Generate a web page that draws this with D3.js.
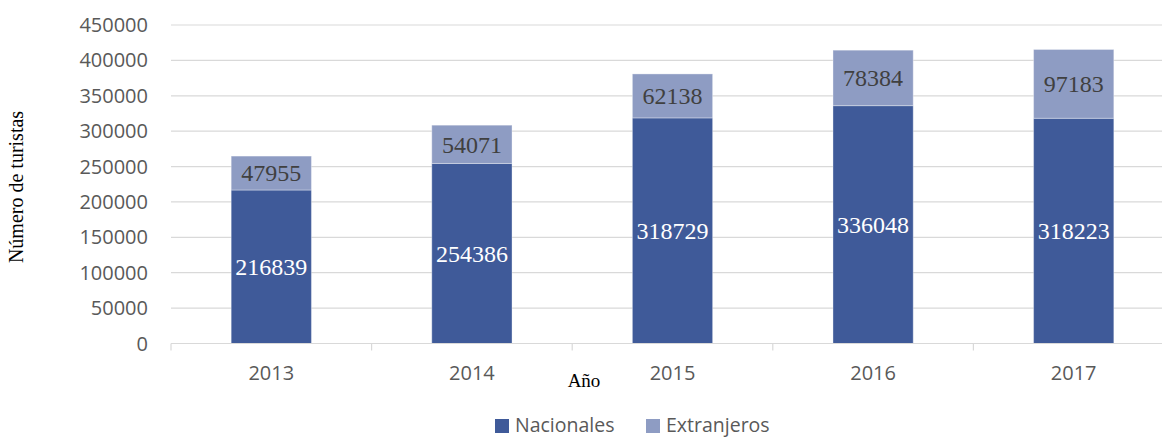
<!DOCTYPE html>
<html>
<head>
<meta charset="utf-8">
<script src="https://cdn.jsdelivr.net/npm/d3@7"></script>
<style>
  body { margin: 0; background: #fff; }
  svg { display: block; }
</style>
</head>
<body>
<svg id="grafica" width="1162" height="438"></svg>
<script>
const anios       = ["2013", "2014", "2015", "2016", "2017"];
const nacionales  = [216839, 254386, 318729, 336048, 318223];
const extranjeros = [47955, 54071, 62138, 78384, 97183];
const ticksY      = [0, 50000, 100000, 150000, 200000, 250000, 300000, 350000, 400000, 450000];
const series      = ["Nacionales", "Extranjeros"];

const colores = { Nacionales: "#3F5A99", Extranjeros: "#8E9CC3" };
const sans  = "'Open Sans', 'Liberation Sans', sans-serif";
const serif = "'Liberation Serif', 'Times New Roman', serif";

const svg = d3.select('#grafica');

const x = d3.scaleBand()
  .domain(anios)
  .range([171, 1174])
  .paddingInner(0.6)
  .paddingOuter(0.3);

const y = d3.scaleLinear()
  .domain([0, 450000])
  .range([343.5, 25]);

// lineas de la rejilla
svg.append('g')
  .selectAll('line')
  .data(ticksY.slice(1))
  .join('line')
  .attr('x1', 171).attr('x2', 1174)
  .attr('y1', d => y(d)).attr('y2', d => y(d))
  .attr('stroke', '#d9d9d9')
  .attr('stroke-width', 1.2);

// etiquetas eje Y
svg.append('g')
  .selectAll('text')
  .data(ticksY)
  .join('text')
  .attr('x', 148)
  .attr('y', d => y(d))
  .attr('dy', '0.35em')
  .attr('text-anchor', 'end')
  .attr('fill', '#595959')
  .style('font', `20px ${sans}`)
  .text(d => d);

// datos apilados
const filas = anios.map((a, i) => ({ anio: a, Nacionales: nacionales[i], Extranjeros: extranjeros[i] }));
const pila = d3.stack().keys(series)(filas);

const capas = svg.append('g')
  .selectAll('g')
  .data(pila)
  .join('g')
  .attr('fill', d => colores[d.key]);

capas.selectAll('rect')
  .data(d => d)
  .join('rect')
  .attr('x', d => x(d.data.anio))
  .attr('width', x.bandwidth())
  .attr('y', d => y(d[1]))
  .attr('height', d => y(d[0]) - y(d[1]))
  .attr('stroke', '#ffffff')
  .attr('stroke-opacity', 0.35)
  .attr('stroke-width', 1);

// eje X
const ejeX = svg.append('g');
ejeX.append('line')
  .attr('x1', 171).attr('x2', 1174)
  .attr('y1', y(0)).attr('y2', y(0))
  .attr('stroke', '#d9d9d9')
  .attr('stroke-width', 1.2);

const limites = d3.range(anios.length + 1).map(i => 171 + i * x.step());
ejeX.selectAll('line.marca')
  .data(limites)
  .join('line')
  .attr('class', 'marca')
  .attr('x1', d => d).attr('x2', d => d)
  .attr('y1', y(0)).attr('y2', y(0) + 7)
  .attr('stroke', '#d9d9d9')
  .attr('stroke-width', 1.2);

ejeX.selectAll('text')
  .data(anios)
  .join('text')
  .attr('x', d => x(d) + x.bandwidth() / 2)
  .attr('y', 373)
  .attr('dy', '0.35em')
  .attr('text-anchor', 'middle')
  .attr('fill', '#595959')
  .style('font', `20px ${sans}`)
  .text(d => d);

// etiquetas de valor
capas.selectAll('text')
  .data(d => d.map(v => ({ v, key: d.key })))
  .join('text')
  .attr('x', d => x(d.v.data.anio) + x.bandwidth() / 2)
  .attr('y', d => (y(d.v[0]) + y(d.v[1])) / 2)
  .attr('dy', '0.35em')
  .attr('text-anchor', 'middle')
  .attr('fill', d => d.key === 'Nacionales' ? '#ffffff' : '#404040')
  .style('font', `24px ${serif}`)
  .text(d => d.v.data[d.key]);

// titulos de ejes
svg.append('text')
  .attr('transform', 'translate(23,187) rotate(-90)')
  .attr('text-anchor', 'middle')
  .attr('fill', '#000')
  .style('font', `20px ${serif}`)
  .text('Número de turistas');

svg.append('text')
  .attr('x', 584)
  .attr('y', 387)
  .attr('text-anchor', 'middle')
  .attr('fill', '#000')
  .style('font', `19px ${serif}`)
  .text('Año');

// leyenda
const leyenda = svg.append('g');
const posLeyenda = [495, 646];
series.forEach((s, i) => {
  const g = leyenda.append('g').attr('transform', `translate(${posLeyenda[i]},419)`);
  g.append('rect').attr('width', 14).attr('height', 14).attr('fill', colores[s]);
  g.append('text')
    .attr('x', 20).attr('y', 6).attr('dy', '0.35em')
    .attr('fill', '#595959')
    .style('font', `19.5px ${sans}`)
    .text(s);
});
</script>
</body>
</html>
